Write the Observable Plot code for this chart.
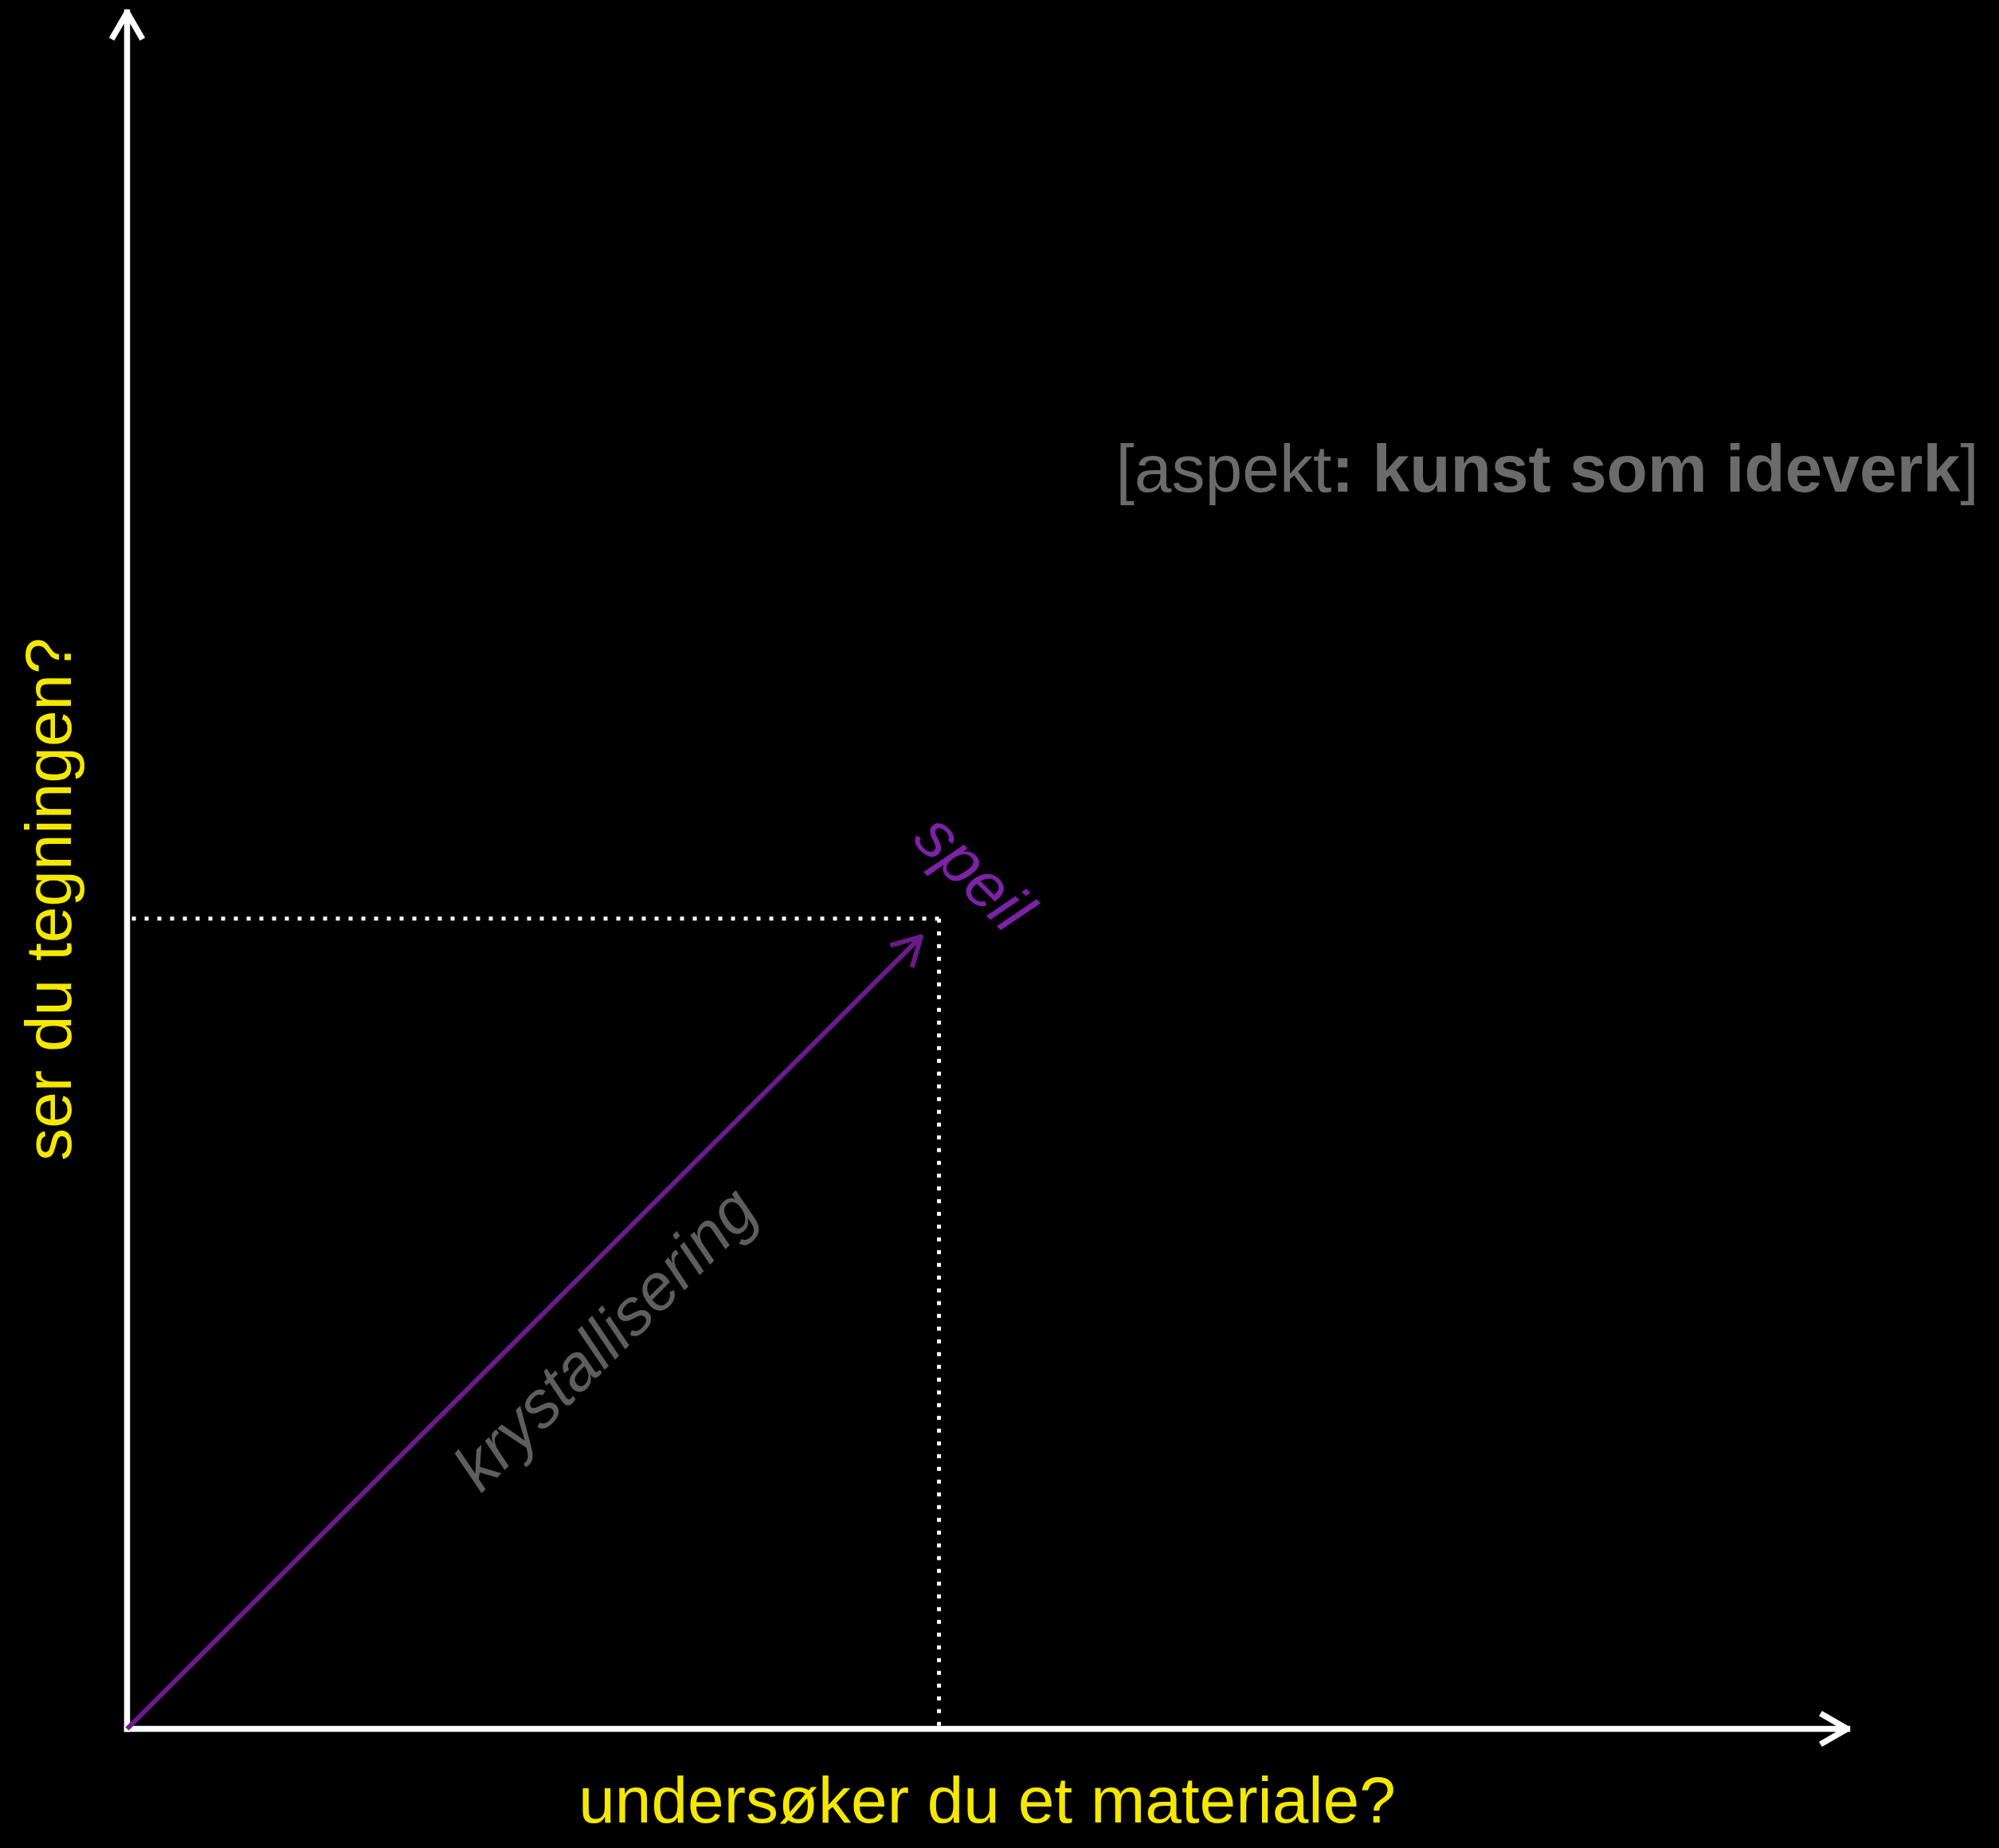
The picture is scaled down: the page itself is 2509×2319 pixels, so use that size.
<!DOCTYPE html>
<html><head><meta charset="utf-8">
<script src="https://cdn.jsdelivr.net/npm/d3@7"></script>
<script src="https://cdn.jsdelivr.net/npm/@observablehq/plot@0.6"></script>
<style>html,body{margin:0;padding:0;background:#000;overflow:hidden}</style>
</head><body><div id="chart"></div>
<script>
// --- data ---
const xAxisLabel = ["undersøker du et materiale?"];
const yAxisLabel = ["ser du tegningen?"];
const aspectRegular = ["[aspekt", "]"];
const aspectBold = [": kunst som ideverk"];
const pointName = ["speil"];
const pointX = [47.2];
const pointY = [47.2];
const arrowLabel = ["krystallisering"];
const domainMax = [100];

// --- derived tables ---
const M = domainMax[0];
const pts = pointName.map((name, i) => ({name, x: pointX[i], y: pointY[i]}));
const axesArrows = [{x1: 0, y1: 0, x2: M, y2: 0}, {x1: 0, y1: 0, x2: 0, y2: M}];
const mainArrow = pts.map(p => ({x1: 0, y1: 0, x2: p.x, y2: p.y}));
const dotted = pts.flatMap(p => [
  {x1: p.x, y1: p.y, x2: 0, y2: p.y},
  {x1: p.x, y1: p.y, x2: p.x, y2: 0}
]);
const mid = pts.map(p => ({label: arrowLabel[0], x: p.x / 2, y: p.y / 2}));
const aspectText = [aspectRegular[0] + aspectBold[0] + aspectRegular[1]];

const FONT = "Liberation Sans";
const YELLOW = "#f4e800";

const chart = Plot.plot({
  width: 2509,
  height: 2319,
  marginLeft: 159,
  marginRight: 191,
  marginTop: 15,
  marginBottom: 150,
  x: {domain: [0, M], axis: null},
  y: {domain: [0, M], axis: null},
  style: {background: "#000", fontFamily: FONT},
  marks: [
    Plot.link(dotted, {x1: "x1", y1: "y1", x2: "x2", y2: "y2", stroke: "#fff", strokeWidth: 5, strokeDasharray: "5,11", strokeLinecap: "butt"}),
    Plot.arrow(axesArrows, {x1: "x1", y1: "y1", x2: "x2", y2: "y2", stroke: "#fff", strokeWidth: 7.5, headLength: 7, headAngle: 60, strokeLinecap: "square", strokeLinejoin: "round"}),
    Plot.arrow(mainArrow, {x1: "x1", y1: "y1", x2: "x2", y2: "y2", stroke: "#6a1b8a", strokeWidth: 6, headLength: 10, headAngle: 58, insetEnd: 32, strokeLinecap: "butt", strokeLinejoin: "round"}),
    Plot.text(mid, {x: "x", y: "y", text: "label", rotate: -45, textAnchor: "middle", lineAnchor: "bottom", dx: 110, dy: 38, fontSize: 82, fontStyle: "italic", fill: "#5e5e5e", fontFamily: FONT}),
    Plot.text(pts, {x: "x", y: "y", text: "name", rotate: 45, textAnchor: "start", lineAnchor: "bottom", dx: -35, dy: -98, fontSize: 82, fontStyle: "italic", fill: "#7b22a5", fontFamily: FONT}),
    Plot.text(xAxisLabel, {x: M / 2, y: 0, text: d => d, textAnchor: "middle", lineAnchor: "bottom", dy: 117, fontSize: 82, fill: YELLOW, fontFamily: FONT}),
    Plot.text(yAxisLabel, {x: 0, y: M / 2, text: d => d, rotate: -90, textAnchor: "middle", lineAnchor: "bottom", dx: -71, dy: 36, fontSize: 82, fill: YELLOW, fontFamily: FONT}),
    Plot.text(aspectText, {frameAnchor: "top-right", text: d => d, textAnchor: "end", lineAnchor: "bottom", dx: 165, dy: 601, fontSize: 84, fill: "#6b6b6b", fontFamily: FONT, className: "aspect"})
  ]
});

// mixed weight for the aspect label
d3.select(chart).selectAll("g.aspect text").each(function() {
  const t = d3.select(this);
  t.text(null);
  t.append("tspan").text(aspectRegular[0]);
  t.append("tspan").attr("font-weight", "bold").text(aspectBold[0]);
  t.append("tspan").text(aspectRegular[1]);
});

document.getElementById("chart").appendChild(chart);
</script>
</body></html>
